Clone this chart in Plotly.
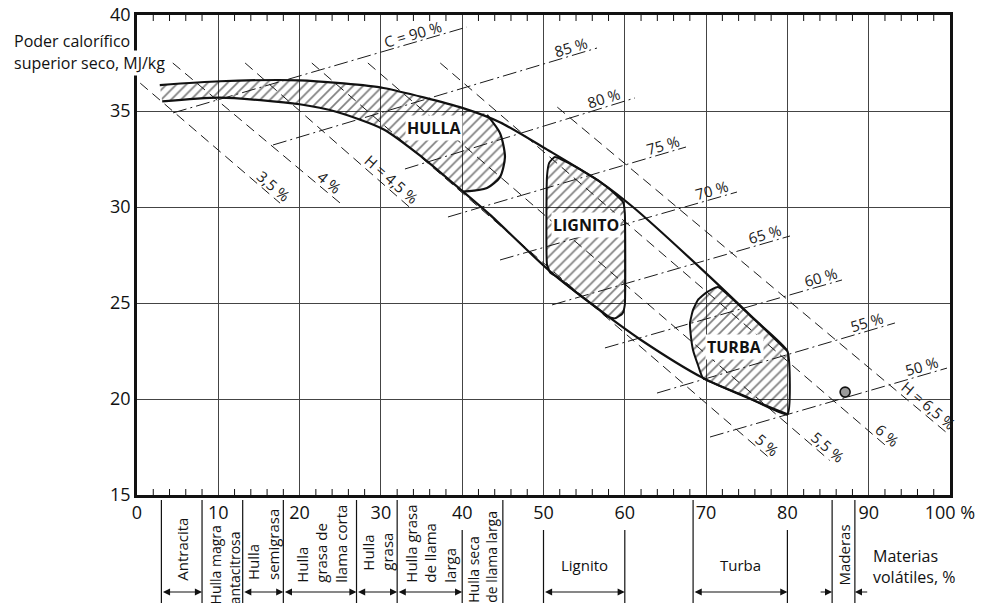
import math
import plotly.graph_objects as go

FONT = "Open Sans"

# ---------------- data ----------------
x_tickvals = [0, 10, 20, 30, 40, 50, 60, 70, 80, 90, 100]
x_ticktext = ["0", "10", "20", "30", "40", "50", "60", "70", "80", "90", "100 %"]
x_minor_tickvals = [v for v in range(2, 100, 2) if v % 10]
y_tickvals = [15, 20, 25, 30, 35, 40]

# band of coals: upper and lower boundary
upper_x = [2.8, 10.2, 20.0, 25.0, 30.3, 40.1, 44.7, 50.4, 57.0, 61.0, 70.5, 80.0]
upper_y = [36.35, 36.55, 36.6, 36.45, 36.2, 35.15, 34.4, 33.0, 31.3, 30.0, 26.35, 22.5]
lower_x = [3.1, 10.2, 20.0, 24.6, 30.3, 35.2, 40.1, 43.4, 50.8, 57.0, 61.9, 69.6, 80.0]
lower_y = [35.5, 35.7, 35.35, 34.95, 34.05, 32.55, 30.8, 29.6, 26.65, 24.6, 23.1, 21.1, 19.2]

# right edge of the HULLA zone
hulla_edge_x = [43.05, 44.65, 45.26, 44.65, 43.05, 40.1]
hulla_edge_y = [34.8, 33.85, 32.6, 31.56, 30.99, 30.8]

# LIGNITO zone outline
lignito_x = [50.43, 50.7, 51.4, 53.9, 57.0, 59.0, 59.8, 60.0, 60.0, 59.7, 58.8, 57.8,
             57.0, 53.9, 51.7, 50.8, 50.43, 50.43]
lignito_y = [31.6, 32.3, 32.6, 32.1, 31.3, 30.6, 30.25, 29.7, 24.9, 24.45, 24.2, 24.3,
             24.6, 25.6, 26.35, 26.6, 27.0, 31.6]

# TURBA zone outline
turba_x = [71.46, 70.11, 69.0, 68.39, 68.02, 68.14, 68.39, 69.0, 69.62, 74.8, 80.0, 80.0, 75.4, 71.46]
turba_y = [25.83, 25.57, 25.16, 24.64, 23.96, 23.23, 22.55, 21.77, 21.09, 20.15, 19.2, 22.5, 24.35, 25.83]

# hydrogen lines (dashed)
h_labels = ["3,5 %", "4 %", "H = 4,5 %", "5 %", "5,5 %", "6 %", "H = 6,5 %"]
h_x0 = [0.4, 4.4, 13.3, 21.5, 28.4, 37.3, 51.7]
h_y0 = [36.45, 37.5, 37.5, 37.5, 37.5, 37.5, 35.2]
h_x1 = [17.6, 25.0, 33.9, 77.6, 85.2, 92.3, 100.0]
h_y1 = [30.2, 30.2, 29.85, 17.0, 16.8, 17.5, 18.1]

# carbon lines (dash-dot)
c_labels = ["C = 90 %", "85 %", "80 %", "75 %", "70 %", "65 %", "60 %", "55 %", "50 %"]
c_x0 = [4.43, 16.73, 32.96, 38.25, 44.65, 51.05, 57.56, 63.96, 70.48]
c_y0 = [34.9, 33.23, 31.98, 29.48, 27.24, 24.9, 22.66, 20.31, 18.02]
c_x1 = [40.59, 56.58, 61.25, 67.53, 73.8, 80.32, 86.72, 93.23, 99.63]
c_y1 = [39.375, 38.28, 35.68, 33.125, 30.78, 28.49, 26.2, 23.96, 21.61]

# single sample (wood)
sample_x = [87.1]
sample_y = [20.36]

# zone labels
zone_labels = ["HULLA", "LIGNITO", "TURBA"]
zone_x = [36.5, 55.2, 73.55]
zone_y = [34.1, 29.06, 22.7]

# classification by volatile matter (below the axis)
sep_x = [3, 8, 13, 18, 27, 32, 40, 45, 50, 60, 68.4, 80, 85.5, 88.3]
sep_under_label = [False, False, False, False, False, False, True, False, True, True, False, True, False, False]
ranges_from = [3, 13, 18, 27, 32, 50, 68.4]
ranges_to = [8, 18, 27, 32, 40, 60, 80]
class_rot_text = ["Antracita", "Hulla magra<br>antacitrosa", "Hulla<br>semigrasa",
                  "Hulla<br>grasa de<br>llama corta", "Hulla<br>grasa",
                  "Hulla grasa<br>de llama<br>larga", "Hulla seca<br>de llama larga", "Maderas"]
class_rot_x = [5.5, 10.75, 15.5, 22.6, 29.6, 36.0, 42.4, 86.9]
class_rot_mid_px = [549, 565, 545, 544, 552, 544, 557, 555]
class_rot_size = [15, 14, 15, 15, 15, 15, 14, 15]
class_flat_text = ["Lignito", "Turba"]
class_flat_x = [55.0, 74.2]

# ---------------- helpers ----------------
L, R, T, B = 137, 32, 15, 108
W, H = 982, 603
PW, PH = W - L - R, H - T - B
PX_X = PW / 100.0
PX_Y = PH / 25.0


def py_paper(py):
    return (H - B - py) / PH


def px_paper(px):
    return (px - L) / PW


fig = go.Figure()

pattern = dict(shape="/", size=7, solidity=0.24, fgcolor="#000", bgcolor="rgba(0,0,0,0)")

# HULLA fill (band up to the bulge)
hx = [x for x in upper_x if x < 43] + hulla_edge_x + [x for x in lower_x[::-1] if x < 40]
hy = [y for x, y in zip(upper_x, upper_y) if x < 43] + hulla_edge_y + \
     [y for x, y in zip(lower_x[::-1], lower_y[::-1]) if x < 40]
fig.add_trace(go.Scatter(x=hx, y=hy, mode="lines", fill="toself", fillcolor="rgba(0,0,0,0)",
                         fillpattern=pattern, line=dict(width=0, shape="spline", smoothing=0.7),
                         hoverinfo="skip", showlegend=False))
for zx, zy in ((lignito_x, lignito_y), (turba_x, turba_y)):
    fig.add_trace(go.Scatter(x=zx, y=zy, mode="lines", fill="toself", fillcolor="rgba(0,0,0,0)",
                             fillpattern=pattern, line=dict(width=0),
                             hoverinfo="skip", showlegend=False))


def add_labelled_line(x0, y0, x1, y1, text, dash, back, perp):
    fig.add_trace(go.Scatter(x=[x0, x1], y=[y0, y1], mode="lines",
                             line=dict(color="#1a1a1a", width=1, dash=dash),
                             hoverinfo="skip", showlegend=False))
    dx = (x1 - x0) * PX_X
    dy = -(y1 - y0) * PX_Y
    n = math.hypot(dx, dy)
    ux, uy = dx / n, dy / n
    ang = math.degrees(math.atan2(uy, ux))
    lx = x1 - back * ux / PX_X
    ly = y1 + back * uy / PX_Y
    nx, ny = uy, -ux
    fig.add_annotation(x=lx, y=ly, xref="x", yref="y", text=text, showarrow=False,
                       textangle=ang, xshift=perp * nx, yshift=-perp * ny,
                       font=dict(family=FONT, size=15, color="#1a1a1a"))


h_back = [16, 22, 36, 8, 10, 8, 36]
for i in range(len(h_labels)):
    add_labelled_line(h_x0[i], h_y0[i], h_x1[i], h_y1[i], h_labels[i], "10px,6px", h_back[i], 9)

c_back = [54, 25, 30, 22, 24, 24, 20, 27, 24]
for i in range(len(c_labels)):
    add_labelled_line(c_x0[i], c_y0[i], c_x1[i], c_y1[i], c_labels[i], "14px,4px,2px,4px", c_back[i], 9)

# boundary curves
for cx, cy in ((upper_x, upper_y), (lower_x, lower_y), (hulla_edge_x, hulla_edge_y)):
    fig.add_trace(go.Scatter(x=cx, y=cy, mode="lines",
                             line=dict(color="#111", width=2.2, shape="spline", smoothing=0.7),
                             hoverinfo="skip", showlegend=False))
for zx, zy in ((lignito_x, lignito_y), (turba_x, turba_y)):
    fig.add_trace(go.Scatter(x=zx, y=zy, mode="lines",
                             line=dict(color="#111", width=2.0, shape="spline", smoothing=0.4),
                             hoverinfo="skip", showlegend=False))

fig.add_trace(go.Scatter(x=sample_x, y=sample_y, mode="markers",
                         marker=dict(size=10, color="#9a9a9a", line=dict(color="#111", width=1.6)),
                         hoverinfo="skip", showlegend=False))

for t, x, y in zip(zone_labels, zone_x, zone_y):
    fig.add_annotation(x=x, y=y, text="<b>" + t + "</b>", showarrow=False, bgcolor="white",
                       borderpad=1, font=dict(family=FONT, size=16, color="#111"))

# axis title
fig.add_annotation(x=px_paper(12), y=py_paper(41), xref="paper", yref="paper",
                   text="Poder calorífico", showarrow=False, xanchor="left", yanchor="middle",
                   font=dict(family=FONT, size=16, color="#111"))
fig.add_annotation(x=px_paper(12), y=py_paper(63), xref="paper", yref="paper",
                   text="superior seco, MJ/kg", showarrow=False, xanchor="left", yanchor="middle",
                   bgcolor="white", font=dict(family=FONT, size=16, color="#111"))

# minor ticks on bottom and top edges (every 2 %)
tick_h = 6 / PH
for v in x_minor_tickvals:
    fig.add_shape(type="line", xref="x", yref="paper", x0=v, x1=v, y0=0, y1=tick_h,
                  line=dict(color="#111", width=1))
    fig.add_shape(type="line", xref="x", yref="paper", x0=v, x1=v, y0=1 - tick_h, y1=1,
                  line=dict(color="#111", width=1))

# classification area
for x, under in zip(sep_x, sep_under_label):
    fig.add_shape(type="line", xref="x", yref="paper", x0=x, x1=x,
                  y0=py_paper(530 if under else 500), y1=py_paper(610),
                  line=dict(color="#111", width=1.2))
arrow_y = py_paper(592)


def add_arrow(head, tail, both):
    fig.add_annotation(x=head, y=arrow_y, ax=tail, ay=0, xref="x", yref="paper",
                       axref="x", ayref="pixel", text="", showarrow=True,
                       arrowhead=2, arrowside="end+start" if both else "end",
                       arrowsize=1.3, arrowwidth=1.1, arrowcolor="#111")


for a, b in zip(ranges_from, ranges_to):
    add_arrow(b, a, True)
add_arrow(85.5, 83.9, False)
add_arrow(88.3, 90.0, False)

for t, x, mid, fs in zip(class_rot_text, class_rot_x, class_rot_mid_px, class_rot_size):
    fig.add_annotation(x=x, y=py_paper(mid), xref="x", yref="paper", text=t, showarrow=False,
                       textangle=-90, align="left", xanchor="center", yanchor="middle",
                       font=dict(family=FONT, size=fs, color="#111"))
for t, x in zip(class_flat_text, class_flat_x):
    fig.add_annotation(x=x, y=py_paper(577), xref="x", yref="paper", text=t, showarrow=False,
                       font=dict(family=FONT, size=15, color="#111"))
fig.add_annotation(x=px_paper(871), y=py_paper(566), xref="paper", yref="paper",
                   text="Materias<br>volátiles, %", showarrow=False, align="left",
                   xanchor="left", yanchor="middle", font=dict(family=FONT, size=16, color="#111"))

fig.update_layout(
    width=W, height=H, margin=dict(l=L, r=R, t=T, b=B),
    paper_bgcolor="white", plot_bgcolor="white", showlegend=False,
    font=dict(family=FONT, color="#111"),
    xaxis=dict(range=[0, 100], tickmode="array", tickvals=x_tickvals, ticktext=x_ticktext,
               showgrid=True, gridcolor="#444", gridwidth=1,
               showline=True, linecolor="#111", linewidth=2.5, mirror=True, ticks="",
               tickfont=dict(family=FONT, size=18, color="#111"), zeroline=False, automargin=False,
               fixedrange=True),
    yaxis=dict(range=[15, 40], tickvals=y_tickvals, showgrid=True, gridcolor="#444", gridwidth=1,
               showline=True, linecolor="#111", linewidth=2.5, mirror=True, ticks="",
               tickfont=dict(family=FONT, size=18, color="#111"), zeroline=False, automargin=False,
               fixedrange=True),
)

fig.write_html("out.html", config={"displayModeBar": False},
               post_script="document.body.style.margin='0px';")
